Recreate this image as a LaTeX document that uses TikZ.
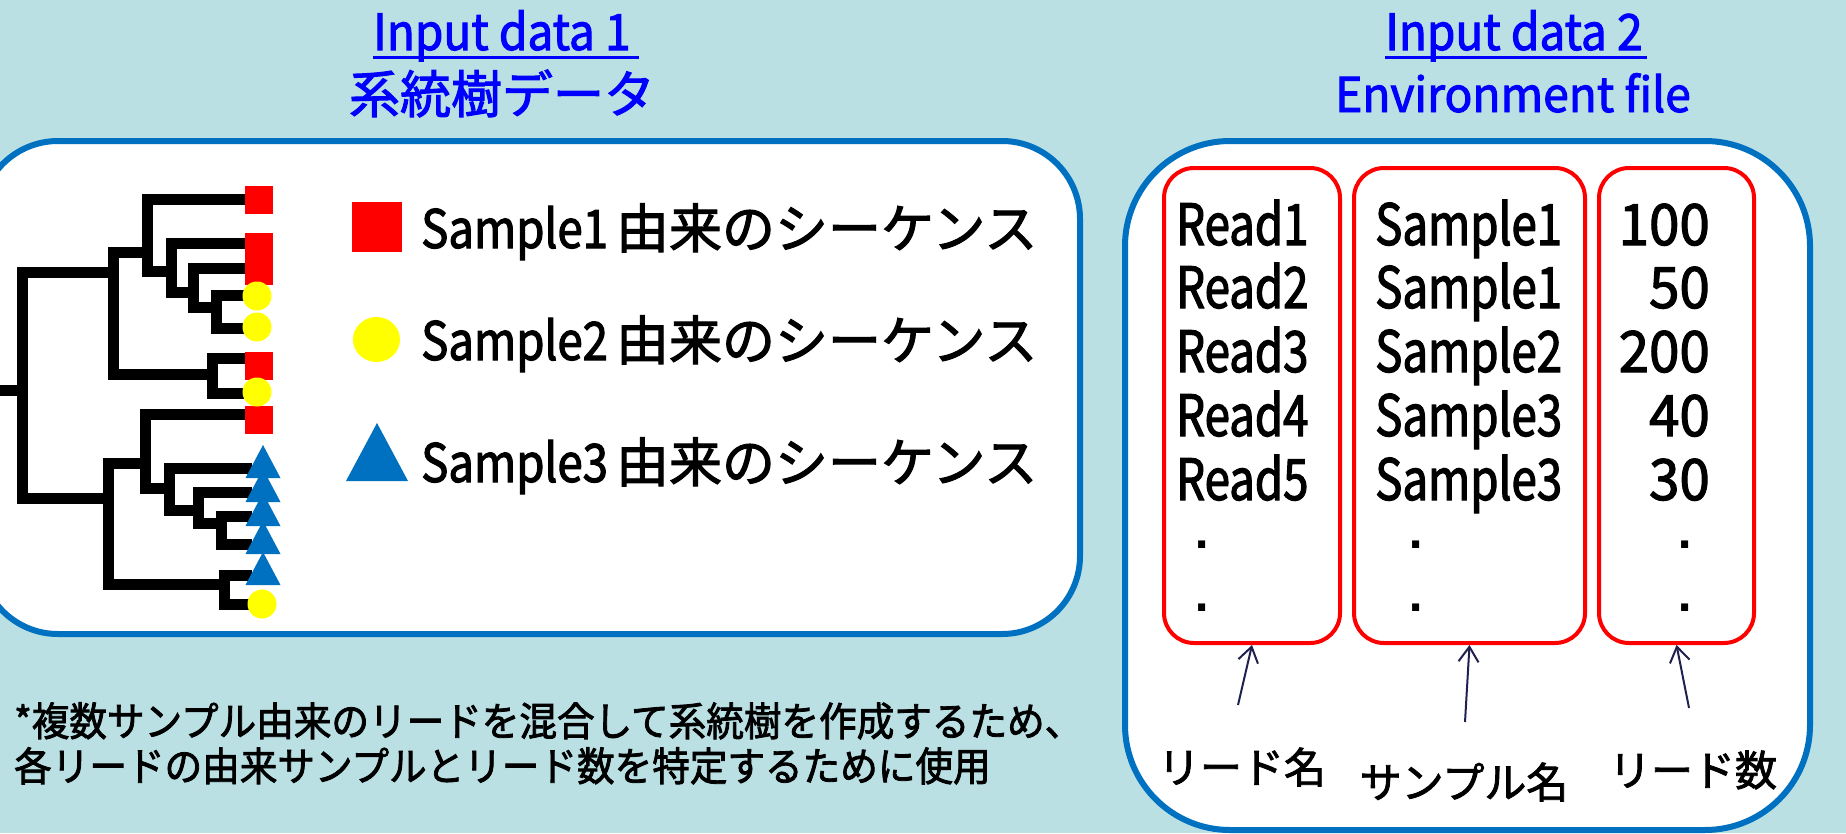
\documentclass[tikz,border=0pt]{standalone}
\usepackage{fontspec}
\setmainfont{Noto Sans CJK JP}[FakeBold=2]
\newfontfamily\latA{Noto Sans CJK JP}[FakeStretch=0.8,FakeBold=2]
\newfontfamily\latL{Noto Sans CJK JP}[FakeStretch=0.86,FakeBold=2]
\newfontfamily\latB{Noto Sans CJK JP}[FakeStretch=0.92,FakeBold=2]
\newfontfamily\latN{Noto Sans CJK JP}[FakeStretch=0.96,FakeBold=2]
\newfontfamily\jpC{Noto Sans CJK JP}[FakeStretch=0.94,FakeBold=2]
\newfontfamily\dotf{DejaVu Sans}
\usetikzlibrary{arrows.meta,shapes.geometric}
\definecolor{bg}{RGB}{186,224,228}
\definecolor{pblue}{RGB}{0,112,192}
\definecolor{tblue}{RGB}{0,0,255}
\definecolor{navy}{RGB}{32,32,80}
\definecolor{rred}{RGB}{255,0,0}
\definecolor{yyel}{RGB}{255,255,0}
\tikzset{
  panel/.style={draw=pblue, line width=6pt, fill=white, rectangle, inner sep=0pt},
  colbox/.style={draw=rred, line width=4pt, rectangle, rounded corners=30pt, inner sep=0pt, minimum height=475pt},
  tree/.style={line width=11pt, black, line join=miter},
  sq/.style={fill=rred, draw=none, rectangle, minimum size=28pt, inner sep=0pt},
  circ/.style={fill=yyel, draw=none, circle, minimum size=29pt, inner sep=0pt},
  datatxt/.style={font=\latA\fontsize{57pt}{60pt}\selectfont, inner sep=0pt, text=black},
  numtxt/.style={font=\latN\fontsize{57pt}{60pt}\selectfont, inner sep=0pt, text=black, anchor=base east},
  dottxt/.style={font=\dotf\bfseries\fontsize{40pt}{40pt}\selectfont, inner sep=0pt, text=black, anchor=base},
  legtxt/.style={font=\fontsize{53pt}{60pt}\selectfont, inner sep=0pt, anchor=base west, text=black},
  title/.style={font=\latB\fontsize{50pt}{56pt}\selectfont, inner sep=0pt, anchor=base, text=tblue},
  jtitle/.style={font=\fontsize{51pt}{56pt}\selectfont, inner sep=0pt, anchor=base, text=tblue},
  ul/.style={draw=tblue, line width=3pt},
  lab/.style={font=\fontsize{42pt}{46pt}\selectfont, inner sep=0pt, text=black},
  foot/.style={font=\jpC\fontsize{40pt}{44pt}\selectfont, inner sep=0pt, anchor=base west, text=black},
  arr/.style={draw=navy, line width=2pt, -{Straight Barb[length=15pt,width=20pt,line width=2pt]}},
}
\begin{document}
\begin{tikzpicture}[x=1pt,y=-1pt]
\useasboundingbox (0,0) rectangle (1846,833);
\fill[bg] (0,0) rectangle (1846,833);

% panels
\node[panel, rounded corners=78pt, minimum width=1100pt, minimum height=493pt] (leftpanel) at (530,387.5) {};
\node[panel, rounded corners=105pt, minimum width=685pt, minimum height=689pt] (rightpanel) at (1467.5,485.5) {};

% titles
\node[title] (t1) at (502,50) {Input data 1};
\draw[ul] ([yshift=-7pt]t1.base west) -- ([xshift=8pt,yshift=-7pt]t1.base east);
\node[jtitle] (t1j) at (502,113) {系統樹データ};
\node[title] (t2) at (1514,50) {Input data 2};
\draw[ul] ([yshift=-7pt]t2.base west) -- ([xshift=4pt,yshift=-7pt]t2.base east);
\node[title, font=\latN\fontsize{48pt}{54pt}\selectfont] (t2e) at (1513,112) {Environment file};

% tree coordinates
\coordinate (R0) at (0,390);
\coordinate (R) at (22,390);
\coordinate (A) at (113,272);
\coordinate (B) at (147,252);
\coordinate (C) at (171,271);
\coordinate (D) at (193,292);
\coordinate (E) at (216,307);
\coordinate (G) at (212,374);
\coordinate (F) at (108,498);
\coordinate (H) at (145,463);
\coordinate (I) at (169,488);
\coordinate (J) at (198,510);
\coordinate (K) at (221,523);
\coordinate (L) at (224,584);
\coordinate (l1) at (252,199);
\coordinate (l2) at (252,243);
\coordinate (l3) at (252,268);
\coordinate (l4) at (252,295);
\coordinate (l5) at (252,328);
\coordinate (l6) at (252,358);
\coordinate (l7) at (252,393);
\coordinate (l8) at (252,414);
\coordinate (l9) at (252,468);
\coordinate (l10) at (252,492);
\coordinate (l11) at (252,516);
\coordinate (l12) at (252,544);
\coordinate (l13) at (252,575);
\coordinate (l14) at (252,604);

\draw[tree] (R0) -- (R);
\draw[tree] (R) |- (A);
\draw[tree] (R) |- (F);
\draw[tree] (A) |- (B);
\draw[tree] (A) |- (G);
\draw[tree] (B) |- (l1);
\draw[tree] (B) |- (C);
\draw[tree] (C) |- (l2);
\draw[tree] (C) |- (D);
\draw[tree] (D) |- (l3);
\draw[tree] (D) |- (E);
\draw[tree] (E) |- (l4);
\draw[tree] (E) |- (l5);
\draw[tree] (G) |- (l6);
\draw[tree] (G) |- (l7);
\draw[tree] (F) |- (H);
\draw[tree] (F) |- (L);
\draw[tree] (H) |- (l8);
\draw[tree] (H) |- (I);
\draw[tree] (I) |- (l9);
\draw[tree] (I) |- (J);
\draw[tree] (J) |- (l10);
\draw[tree] (J) |- (K);
\draw[tree] (K) |- (l11);
\draw[tree] (K) |- (l12);
\draw[tree] (L) |- (l13);
\draw[tree] (L) |- (l14);

% leaf symbols
\node[sq] (s1) at (259,199.5) {};
\node[sq] (s2) at (259,247) {};
\node[sq] (s3) at (259,271) {};
\node[sq] (s6) at (259,366) {};
\node[sq] (s8) at (259,420) {};
\node[circ] (c4) at (257,296) {};
\node[circ] (c5) at (257,327) {};
\node[circ] (c7) at (257,392) {};
\node[circ] (c14) at (262,604) {};
\foreach \y/\n in {468/9,492/10,516/11,544/12,575/13}{
  \fill[pblue] (245.5,\y+10) -- (263,\y-23) -- (280.5,\y+10) -- cycle;
}

% legend
\node[sq, minimum size=50pt] (lsq) at (377,226.5) {};
\node[fill=yyel, ellipse, minimum width=47pt, minimum height=45pt, inner sep=0pt] (lcirc) at (376.5,339.5) {};
\fill[pblue] (346,481) -- (377,423) -- (408,481) -- cycle;
\node[legtxt] (leg1) at (421,248) {{\latL Sample1}\hspace{8pt}由来のシーケンス};
\node[legtxt] (leg2) at (421,360) {{\latL Sample2}\hspace{8pt}由来のシーケンス};
\node[legtxt] (leg3) at (421,482) {{\latL Sample3}\hspace{8pt}由来のシーケンス};

% footnote
\node[foot] (fn1) at (14,736) {*複数サンプル由来のリードを混合して系統樹を作成するため、};
\node[foot] (fn2) at (14,781) {各リードの由来サンプルとリード数を特定するために使用};

% right panel columns
\node[colbox, minimum width=176pt] (box1) at (1252,405.5) {};
\node[colbox, minimum width=231pt] (box2) at (1469.5,405.5) {};
\node[colbox, minimum width=155pt] (box3) at (1676.5,405.5) {};

\foreach \y/\r/\s/\c in {245/1/1/100,308/2/1/50,372/3/2/200,436/4/3/40,500/5/3/30}{
  \node[datatxt, anchor=base west] (read\r) at (1176,\y) {Read\r};
  \node[datatxt, anchor=base west] (samp\r) at (1375,\y) {Sample\s};
  \node[numtxt] (num\r) at (1710,\y) {\c};
}
\foreach \y/\k in {548.5/a,611.5/b}{
  \node[dottxt] (d1\k) at (1202,\y) {.};
  \node[dottxt] (d2\k) at (1416,\y) {.};
  \node[dottxt] (d3\k) at (1685,\y) {.};
}

% labels and arrows
\node[lab] (lab1) at (1242,767) {リード名};
\node[lab] (lab2) at (1464,782) {サンプル名};
\node[lab] (lab3) at (1693,770) {リード数};
\coordinate (a1) at (1238,705);
\coordinate (a2) at (1465,722);
\coordinate (a3) at (1689,708);
\draw[arr] (a1) -- (box1.south);
\draw[arr] (a2) -- (box2.south);
\draw[arr] (a3) -- (box3.south);
\end{tikzpicture}
\end{document}
